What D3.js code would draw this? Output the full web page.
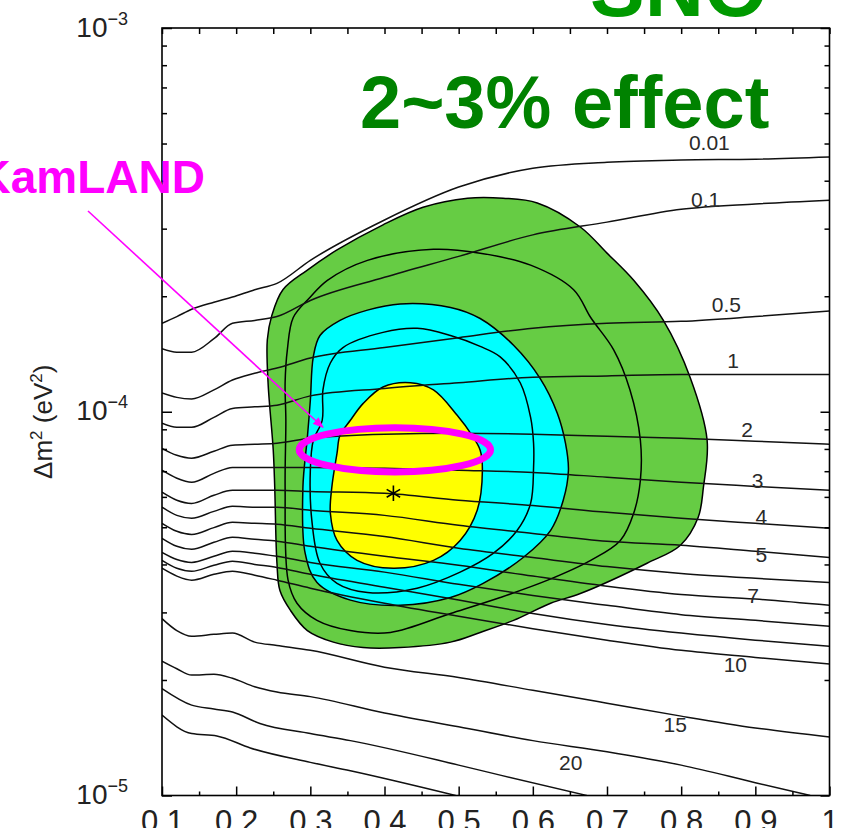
<!DOCTYPE html>
<html>
<head>
<meta charset="utf-8">
<script src="https://cdn.jsdelivr.net/npm/d3@7"></script>
<style>
  body { margin: 0; background: #fff; }
  svg { display: block; font-family: "Liberation Sans", Arial, sans-serif; }
</style>
</head>
<body>
<div id="chart"></div>
<script>
// x grid shared by the iso-lines that cross the whole frame
var xGrid = [0.1, 0.12, 0.14, 0.17, 0.195, 0.225, 0.255, 0.3, 0.4, 0.5, 0.6, 0.7, 0.8, 0.9, 1.0];

// iso-lines: dm2 at each xGrid point, in units of 1e-5 eV^2
var iso001 = [17.0, 17.7, 18.5, 19.3, 19.9, 20.8, 21.6, 24.8, 31.6, 38.5, 43.1, 44.7, 45.3, 45.5, 46.1];
var iso01  = [14.6, 14.3, 14.3, 15.5, 17.0, 17.3, 17.7, 19.5, 22.4, 25.4, 28.9, 31.2, 33.7, 34.8, 35.6];
var iso05  = [11.2, 10.9, 10.8, 11.4, 12.1, 12.6, 13.0, 13.8, 14.7, 15.6, 16.5, 17.0, 17.2, 17.7, 18.3];
var iso1   = [9.34, 9.11, 9.11, 9.67, 10.2, 10.3, 10.4, 11.0, 11.5, 11.9, 12.3, 12.4, 12.5, 12.5, 12.5];
var iso2   = [8.03, 7.70, 7.57, 7.89, 8.18, 8.23, 8.28, 8.53, 8.74, 8.79, 8.74, 8.63, 8.53, 8.38, 8.23];
var iso3   = [7.04, 6.71, 6.55, 6.91, 7.16, 7.16, 7.16, 7.16, 7.12, 7.04, 6.95, 6.75, 6.55, 6.39, 6.24];
var iso4   = [6.17, 5.88, 5.77, 6.06, 6.24, 6.24, 6.24, 6.20, 6.13, 5.88, 5.70, 5.47, 5.28, 5.12, 4.97];
var iso5   = [5.64, 5.37, 5.28, 5.50, 5.67, 5.64, 5.64, 5.54, 5.37, 5.06, 4.82, 4.60, 4.49, 4.33, 4.17];
var iso6   = [5.12, 4.88, 4.79, 4.99, 5.15, 5.12, 5.09, 4.97, 4.73, 4.41, 4.17, 3.95, 3.79, 3.68, 3.59];
var iso7   = [4.68, 4.46, 4.38, 4.57, 4.71, 4.65, 4.60, 4.46, 4.20, 3.98, 3.73, 3.51, 3.34, 3.25, 3.13];
var iso8   = [4.30, 4.12, 4.05, 4.20, 4.33, 4.28, 4.20, 4.05, 3.82, 3.55, 3.32, 3.13, 2.96, 2.86, 2.76];
var iso9   = [4.10, 3.91, 3.84, 3.98, 4.08, 4.00, 3.93, 3.77, 3.49, 3.23, 2.98, 2.79, 2.65, 2.54, 2.45];
var iso10  = [3.91, 3.73, 3.64, 3.77, 3.84, 3.75, 3.64, 3.47, 3.17, 2.93, 2.72, 2.54, 2.39, 2.29, 2.20];
var iso15  = [2.89, 2.69, 2.60, 2.63, 2.65, 2.51, 2.46, 2.39, 2.16, 2.03, 1.88, 1.74, 1.61, 1.50, 1.42];

// the lowest iso-lines leave through the bottom edge: [x, dm2 (1e-5 eV^2)]
var iso20 = [[0.1, 2.24], [0.12, 2.14], [0.14, 2.06], [0.17, 2.07], [0.195, 2.02], [0.225, 1.92], [0.255, 1.86],
             [0.3, 1.81], [0.4, 1.64], [0.5, 1.51], [0.6, 1.39], [0.7, 1.30], [0.8, 1.20], [0.9, 1.08], [0.974, 1.00]];
var iso25 = [[0.1, 1.90], [0.14, 1.72], [0.17, 1.68], [0.195, 1.65], [0.232, 1.54], [0.3, 1.45], [0.354, 1.39],
             [0.5, 1.20], [0.556, 1.13], [0.673, 1.00]];
var iso30 = [[0.1, 1.62], [0.14, 1.45], [0.174, 1.43], [0.219, 1.33], [0.3, 1.22], [0.354, 1.16], [0.496, 1.00]];

// iso-line values written on the plot
var isoLabels = ["0.01", "0.1", "0.5", "1", "2", "3", "4", "5", "7", "10", "15", "20"];

// allowed regions (closed contours), [x, dm2 (1e-5 eV^2)]
var greenOuter = [[0.243, 11.9], [0.242, 15.4], [0.248, 17.8], [0.263, 20.8], [0.296, 23.4], [0.336, 26.4],
  [0.398, 30.7], [0.452, 34.1], [0.512, 36.0], [0.560, 36.0], [0.606, 35.0], [0.664, 30.3], [0.700, 25.9],
  [0.736, 22.0], [0.776, 17.3], [0.812, 12.3], [0.835, 8.43], [0.830, 6.36], [0.823, 5.31], [0.799, 4.49],
  [0.754, 4.03], [0.664, 3.36], [0.624, 3.17], [0.574, 2.86], [0.529, 2.66], [0.489, 2.51], [0.421, 2.43],
  [0.371, 2.43], [0.331, 2.51], [0.296, 2.69], [0.273, 3.04], [0.259, 3.42], [0.255, 4.03], [0.252, 6.36],
  [0.250, 7.94]];
var greenInner = [[0.266, 11.9], [0.269, 14.5], [0.277, 17.6], [0.300, 19.9], [0.323, 22.0], [0.377, 24.8],
  [0.466, 26.5], [0.529, 25.9], [0.597, 24.1], [0.655, 20.8], [0.678, 17.6], [0.709, 14.5], [0.731, 11.4],
  [0.745, 8.43], [0.745, 6.63], [0.736, 5.44], [0.718, 4.62], [0.678, 4.10], [0.620, 3.64], [0.556, 3.28],
  [0.489, 2.98], [0.408, 2.66], [0.354, 2.69], [0.309, 2.86], [0.282, 3.17], [0.270, 3.64], [0.266, 6.36],
  [0.267, 9.50]];
var cyanOuter = [[0.300, 10.7], [0.304, 13.9], [0.313, 15.8], [0.340, 17.3], [0.377, 18.4], [0.421, 19.1],
  [0.489, 18.7], [0.529, 17.5], [0.574, 14.9], [0.610, 12.2], [0.633, 9.91], [0.644, 8.28], [0.648, 7.04],
  [0.641, 5.88], [0.624, 4.91], [0.587, 4.17], [0.533, 3.57], [0.489, 3.28], [0.421, 3.13], [0.354, 3.23],
  [0.309, 3.59], [0.293, 4.28], [0.290, 6.36], [0.296, 8.58]];
var cyanInner = [[0.316, 9.50], [0.317, 11.4], [0.327, 13.4], [0.344, 14.7], [0.398, 16.1], [0.444, 16.5],
  [0.489, 15.8], [0.529, 14.8], [0.556, 13.9], [0.583, 11.9], [0.597, 9.67], [0.601, 8.28], [0.601, 7.16],
  [0.597, 5.77], [0.579, 4.91], [0.547, 4.28], [0.502, 3.82], [0.444, 3.47], [0.377, 3.38], [0.336, 3.57],
  [0.313, 4.03], [0.302, 5.22], [0.300, 7.04], [0.304, 8.43]];
var yellowCore = [[0.336, 7.80], [0.340, 8.68], [0.354, 9.50], [0.371, 10.5], [0.398, 11.6], [0.435, 11.9],
  [0.466, 11.4], [0.498, 9.79], [0.518, 8.68], [0.529, 7.94], [0.532, 7.04], [0.525, 5.54], [0.502, 4.62],
  [0.466, 4.10], [0.412, 3.91], [0.363, 4.10], [0.336, 4.62], [0.327, 5.44], [0.329, 6.36]];

// best fit point and the KamLAND ellipse (x range, dm2 range)
var bestFit = [0.412, 6.13];
var kamlandX = [0.285, 0.543];
var kamlandDm2 = [6.97, 9.09];

var xMajor = [0.1, 0.2, 0.3, 0.4, 0.5, 0.6, 0.7, 0.8, 0.9, 1];
var xMinor = [0.15, 0.25, 0.35, 0.45, 0.55, 0.65, 0.75, 0.85, 0.95];
var yExp = [-5, -4, -3];
var yMinorMult = [2, 3, 4, 5, 6, 7, 8, 9];

var UNIT = 1e-5;

// label placement: x of the label and baseline shift (px) from its line
var labelPlace = {
  "0.01": [0.838, -10], "0.1": [0.833, -1], "0.5": [0.861, -6], "1": [0.870, -7],
  "2": [0.889, -4], "3": [0.903, 1], "4": [0.908, 0], "5": [0.908, 10],
  "7": [0.897, 4], "10": [0.873, 17], "15": [0.792, 17], "20": [0.651, 24]
};

// set the dimensions of the frame
var width = 844, height = 828;
var frameL = 162, frameR = 829.5, frameT = 28, frameB = 795.5;

var svg = d3.select("#chart")
  .append("svg")
  .attr("width", width)
  .attr("height", height);

var x = d3.scaleLinear().domain([0.1, 1]).range([frameL, frameR]);
var y = d3.scaleLog().domain([1e-5, 1e-3]).range([frameB, frameT]);

svg.append("clipPath").attr("id", "frame")
  .append("rect")
  .attr("x", frameL).attr("y", frameT)
  .attr("width", frameR - frameL).attr("height", frameB - frameT);

var plot = svg.append("g").attr("clip-path", "url(#frame)");

// regions
var closedLine = d3.line()
  .x(function(d) { return x(d[0]); })
  .y(function(d) { return y(d[1] * UNIT); })
  .curve(d3.curveCatmullRomClosed.alpha(0.5));

var regions = [
  {pts: greenOuter, fill: "#66cc44"},
  {pts: greenInner, fill: "none"},
  {pts: cyanOuter, fill: "#00ffff"},
  {pts: cyanInner, fill: "none"},
  {pts: yellowCore, fill: "#ffff00"}
];
regions.forEach(function(r) {
  plot.append("path")
    .attr("d", closedLine(r.pts))
    .attr("fill", r.fill)
    .attr("stroke", "#000")
    .attr("stroke-width", 1.5);
});

// iso-lines
var openLine = d3.line()
  .x(function(d) { return x(d[0]); })
  .y(function(d) { return y(d[1] * UNIT); })
  .curve(d3.curveMonotoneX);

function onGrid(vals) {
  return vals.map(function(v, i) { return [xGrid[i], v]; });
}

var isoLines = [
  {name: "0.01", pts: onGrid(iso001)}, {name: "0.1", pts: onGrid(iso01)},
  {name: "0.5", pts: onGrid(iso05)}, {name: "1", pts: onGrid(iso1)},
  {name: "2", pts: onGrid(iso2)}, {name: "3", pts: onGrid(iso3)},
  {name: "4", pts: onGrid(iso4)}, {name: "5", pts: onGrid(iso5)},
  {name: "6", pts: onGrid(iso6)}, {name: "7", pts: onGrid(iso7)},
  {name: "8", pts: onGrid(iso8)}, {name: "9", pts: onGrid(iso9)},
  {name: "10", pts: onGrid(iso10)}, {name: "15", pts: onGrid(iso15)},
  {name: "20", pts: iso20}, {name: "25", pts: iso25}, {name: "30", pts: iso30}
];

plot.selectAll("path.iso")
  .data(isoLines)
  .enter()
  .append("path")
  .attr("class", "iso")
  .attr("d", function(d) { return openLine(d.pts); })
  .attr("fill", "none")
  .attr("stroke", "#111")
  .attr("stroke-width", 1.5);

// screen y of a line at a given x (linear between points)
function yOn(pts, xv) {
  for (var i = 0; i < pts.length - 1; i++) {
    if (xv >= pts[i][0] && xv <= pts[i + 1][0]) {
      var t = (xv - pts[i][0]) / (pts[i + 1][0] - pts[i][0]);
      var y0 = y(pts[i][1] * UNIT), y1 = y(pts[i + 1][1] * UNIT);
      return y0 + t * (y1 - y0);
    }
  }
  return y(pts[pts.length - 1][1] * UNIT);
}

isoLabels.forEach(function(name) {
  var line = isoLines.filter(function(l) { return l.name === name; })[0];
  var p = labelPlace[name];
  svg.append("text")
    .attr("x", x(p[0]))
    .attr("y", yOn(line.pts, p[0]) + p[1])
    .attr("text-anchor", "middle")
    .attr("font-size", 21)
    .attr("fill", "#2a2a2a")
    .text(name);
});

// best fit marker
svg.append("path")
  .attr("d", d3.symbol().type(d3.symbolAsterisk).size(170)())
  .attr("transform", "translate(" + x(bestFit[0]) + "," + y(bestFit[1] * UNIT) + ")")
  .attr("fill", "none")
  .attr("stroke", "#000")
  .attr("stroke-width", 1.6);

// frame and ticks
svg.append("rect")
  .attr("x", frameL).attr("y", frameT)
  .attr("width", frameR - frameL).attr("height", frameB - frameT)
  .attr("fill", "none")
  .attr("stroke", "#000")
  .attr("stroke-width", 1.6);

function tickStyle(g) {
  g.select(".domain").remove();
  g.selectAll(".tick line").attr("stroke", "#000").attr("stroke-width", 1.5);
}

var yMinor = [];
[-5, -4].forEach(function(e) {
  yMinorMult.forEach(function(m) { yMinor.push(m * Math.pow(10, e)); });
});
var yMajor = yExp.map(function(e) { return Math.pow(10, e); });

var fmt = function(d) { return d === 1 ? "1" : d3.format(".1f")(d); };

var xAxis = svg.append("g")
  .attr("transform", "translate(0," + frameB + ")")
  .call(d3.axisBottom(x).tickValues(xMajor).tickSize(-9).tickPadding(14).tickFormat(fmt))
  .call(tickStyle);
xAxis.selectAll("text")
  .attr("font-size", 31)
  .attr("font-family", "Liberation Sans, Arial, sans-serif")
  .attr("fill", "#222");

svg.append("g")
  .attr("transform", "translate(0," + frameB + ")")
  .call(d3.axisBottom(x).tickValues(xMinor).tickSize(-4).tickFormat(""))
  .call(tickStyle);

svg.append("g")
  .attr("transform", "translate(0," + frameT + ")")
  .call(d3.axisTop(x).tickValues(xMajor.concat(xMinor)).tickSize(-6).tickFormat(""))
  .call(tickStyle);

svg.append("g")
  .attr("transform", "translate(" + frameL + ",0)")
  .call(d3.axisLeft(y).tickValues(yMajor).tickSize(-10).tickFormat(""))
  .call(tickStyle);
svg.append("g")
  .attr("transform", "translate(" + frameL + ",0)")
  .call(d3.axisLeft(y).tickValues(yMinor).tickSize(-5).tickFormat(""))
  .call(tickStyle);
svg.append("g")
  .attr("transform", "translate(" + frameR + ",0)")
  .call(d3.axisRight(y).tickValues(yMajor).tickSize(-9).tickFormat(""))
  .call(tickStyle);
svg.append("g")
  .attr("transform", "translate(" + frameR + ",0)")
  .call(d3.axisRight(y).tickValues(yMinor).tickSize(-5).tickFormat(""))
  .call(tickStyle);

// y tick labels as 10^n
var yLab = svg.append("g");
yExp.forEach(function(e) {
  var t = yLab.append("text")
    .attr("x", 128)
    .attr("y", y(Math.pow(10, e)) + 8.5)
    .attr("text-anchor", "end")
    .attr("font-size", 28)
    .attr("fill", "#222");
  t.append("tspan").text("10");
  t.append("tspan").attr("dy", -12).attr("font-size", 18).text("\u2212" + Math.abs(e));
});

// y axis title
var yTitle = svg.append("text")
  .attr("transform", "translate(52," + ((frameT + frameB) / 2 + 10) + ") rotate(-90)")
  .attr("text-anchor", "middle")
  .attr("font-size", 26)
  .attr("fill", "#222");
yTitle.append("tspan").text("\u0394m");
yTitle.append("tspan").attr("dy", -10).attr("font-size", 17).text("2");
yTitle.append("tspan").attr("dy", 10).text(" (eV");
yTitle.append("tspan").attr("dy", -10).attr("font-size", 17).text("2");
yTitle.append("tspan").attr("dy", 10).text(")");

// KamLAND ellipse and arrow
var kx0 = x(kamlandX[0]), kx1 = x(kamlandX[1]);
var ky0 = y(kamlandDm2[1] * UNIT), ky1 = y(kamlandDm2[0] * UNIT);
svg.append("ellipse")
  .attr("cx", (kx0 + kx1) / 2)
  .attr("cy", (ky0 + ky1) / 2)
  .attr("rx", (kx1 - kx0) / 2)
  .attr("ry", (ky1 - ky0) / 2)
  .attr("fill", "none")
  .attr("stroke", "#ff00ff")
  .attr("stroke-width", 7);

svg.append("defs").append("marker")
  .attr("id", "head")
  .attr("viewBox", "0 0 10 10")
  .attr("refX", 9).attr("refY", 5)
  .attr("markerWidth", 7).attr("markerHeight", 7)
  .attr("orient", "auto")
  .append("path")
  .attr("d", "M0,1 L10,5 L0,9 Z")
  .attr("fill", "#ff00ff");

svg.append("line")
  .attr("x1", 88).attr("y1", 211)
  .attr("x2", x(0.317)).attr("y2", y(9.11 * UNIT))
  .attr("stroke", "#ff00ff")
  .attr("stroke-width", 1.6)
  .attr("marker-end", "url(#head)");

// annotations
svg.append("text")
  .attr("x", 205).attr("y", 193)
  .attr("text-anchor", "end")
  .attr("font-size", 46)
  .attr("font-weight", "bold")
  .attr("fill", "#ff00ff")
  .text("KamLAND");

svg.append("text")
  .attr("x", 360).attr("y", 128)
  .attr("font-size", 74)
  .attr("font-weight", "bold")
  .attr("fill", "#008200")
  .text("2~3% effect");

svg.append("text")
  .attr("x", 590).attr("y", 16)
  .attr("font-size", 82)
  .attr("font-weight", "bold")
  .attr("fill", "#009900")
  .text("SNO");
</script>
</body>
</html>
